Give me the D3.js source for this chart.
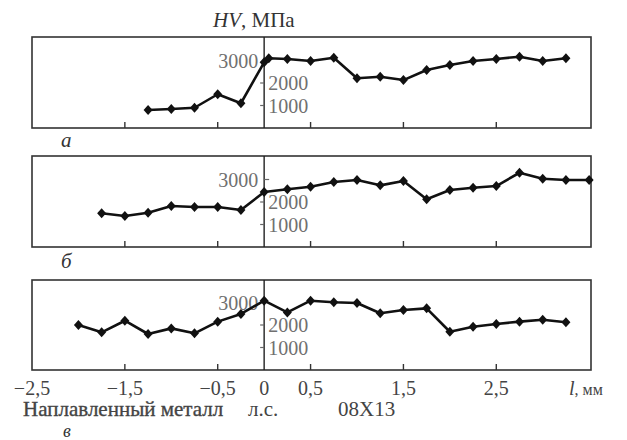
<!DOCTYPE html>
<html>
<head>
<meta charset="utf-8">
<script src="https://cdn.jsdelivr.net/npm/d3@7"></script>
<style>
  body { margin: 0; background: #fff; }
</style>
</head>
<body>
<svg id="canvas" width="627" height="440"></svg>
<script>
// HV values (MPa), l in mm
const lA = [-1.25, -1, -0.75, -0.5, -0.25, 0, 0.05, 0.25, 0.5, 0.75, 1, 1.25, 1.5, 1.75, 2, 2.25, 2.5, 2.75, 3, 3.25];
const hvA = [800, 845, 900, 1500, 1100, 2920, 3100, 3070, 2980, 3125, 2210, 2280, 2130, 2580, 2800, 2980, 3070, 3170, 2980, 3100];

const lB = [-1.75, -1.5, -1.25, -1, -0.75, -0.5, -0.25, 0, 0.25, 0.5, 0.75, 1, 1.25, 1.5, 1.75, 2, 2.25, 2.5, 2.75, 3, 3.25, 3.5];
const hvB = [1500, 1380, 1525, 1820, 1780, 1780, 1645, 2445, 2565, 2680, 2890, 2980, 2740, 2935, 2120, 2535, 2635, 2710, 3300, 3035, 2980, 2980];

const lC = [-2, -1.75, -1.5, -1.25, -1, -0.75, -0.5, -0.25, 0, 0.25, 0.5, 0.75, 1, 1.25, 1.5, 1.75, 2, 2.25, 2.5, 2.75, 3, 3.25];
const hvC = [2000, 1675, 2190, 1600, 1850, 1630, 2150, 2490, 3080, 2560, 3080, 3010, 2980, 2520, 2665, 2740, 1700, 1925, 2045, 2150, 2235, 2120];

const panelNames = ["а", "б", "в"];
const xTicks = [-1.5, -0.5, 0.5, 1.5, 2.5];
const xTickLabels = ["−2,5", "−1,5", "−0,5", "0", "0,5", "1,5", "2,5"];
const xLabelValues = [-2.5, -1.5, -0.5, 0, 0.5, 1.5, 2.5];
const yTicks = [1000, 2000, 3000];

const serif = "'Liberation Serif', 'Times New Roman', Tinos, 'DejaVu Serif', serif";

const svg = d3.select("#canvas")
    .attr("font-family", serif)
    .style("font-family", serif);

var x = d3.scaleLinear().domain([-2.5, 3.52]).range([32, 591]);

// panel boxes: top / bottom in px
var panels = [
    { top: 37, bottom: 128, l: lA, hv: hvA },
    { top: 156, bottom: 247, l: lB, hv: hvB },
    { top: 280, bottom: 370, l: lC, hv: hvC }
];

var diamond = "M0,-5L4.5,0L0,5L-4.5,0Z";

panels.forEach((p, i) => {
    var y = d3.scaleLinear().domain([0, 1000]).range([p.bottom, p.bottom - 22.5]);
    var g = svg.append("g");

    g.append("rect")
        .attr("x", x.range()[0])
        .attr("y", p.top)
        .attr("width", x.range()[1] - x.range()[0])
        .attr("height", p.bottom - p.top)
        .attr("fill", "none")
        .attr("stroke", "#333")
        .attr("stroke-width", 1.6);

    // inward ticks on the bottom edge
    g.selectAll(".xtick")
        .data(xTicks)
        .enter()
        .append("line")
        .attr("x1", d => x(d))
        .attr("x2", d => x(d))
        .attr("y1", p.bottom)
        .attr("y2", p.bottom - 6)
        .attr("stroke", "#333")
        .attr("stroke-width", 1.4);

    // vertical axis at l = 0
    g.append("line")
        .attr("x1", x(0))
        .attr("x2", x(0))
        .attr("y1", p.top)
        .attr("y2", p.bottom)
        .attr("stroke", "#222")
        .attr("stroke-width", 1.4);

    g.selectAll(".ytick")
        .data(yTicks)
        .enter()
        .append("line")
        .attr("x1", d => d === 3000 ? x(0) : x(0) - 4)
        .attr("x2", d => d === 3000 ? x(0) + 5 : x(0))
        .attr("y1", d => y(d))
        .attr("y2", d => y(d))
        .attr("stroke", "#666")
        .attr("stroke-width", 1.2);

    g.selectAll(".ylabel")
        .data(yTicks)
        .enter()
        .append("text")
        .attr("x", d => d === 3000 ? x(0) - 6 : x(0) + 4)
        .attr("y", d => y(d))
        .attr("dy", "0.35em")
        .attr("text-anchor", d => d === 3000 ? "end" : "start")
        .attr("font-size", 20)
        .attr("fill", "#707070")
        .text(d => d);

    var line = d3.line()
        .x((d, j) => x(p.l[j]))
        .y(d => y(d));

    g.append("path")
        .datum(p.hv)
        .attr("d", line)
        .attr("fill", "none")
        .attr("stroke", "#111")
        .attr("stroke-width", 2.6)
        .attr("stroke-linejoin", "round");

    g.selectAll(".pt")
        .data(p.hv)
        .enter()
        .append("path")
        .attr("d", diamond)
        .attr("transform", (d, j) => `translate(${x(p.l[j])}, ${y(d)})`)
        .attr("fill", "#111");
});

// panel letters
svg.selectAll(".pname")
    .data(panelNames)
    .enter()
    .append("text")
    .attr("x", (d, i) => i === 2 ? 63 : 61)
    .attr("y", (d, i) => [147, 268, 437][i])
    .attr("font-size", (d, i) => i === 2 ? 18 : 21)
    .attr("font-style", "italic")
    .attr("fill", "#333")
    .text(d => d);

// x tick labels under the last panel
svg.selectAll(".xlabel")
    .data(xLabelValues)
    .enter()
    .append("text")
    .attr("x", d => x(d))
    .attr("y", 395)
    .attr("text-anchor", "middle")
    .attr("font-size", 20)
    .attr("fill", "#444")
    .text((d, i) => xTickLabels[i]);

var lLabel = svg.append("text")
    .attr("x", 569)
    .attr("y", 395)
    .attr("font-size", 20)
    .attr("fill", "#444");
lLabel.append("tspan").attr("font-style", "italic").text("l");
lLabel.append("tspan").attr("font-size", 16).text(", мм");

var title = svg.append("text")
    .attr("x", 213)
    .attr("y", 27)
    .attr("font-size", 21)
    .attr("fill", "#333");
title.append("tspan").attr("font-style", "italic").text("HV");
title.append("tspan").text(", МПа");

svg.append("text")
    .attr("x", 23)
    .attr("y", 416)
    .attr("font-size", 21)
    .attr("fill", "#444")
    .attr("stroke", "#444")
    .attr("stroke-width", 0.35)
    .text("Наплавленный металл");

svg.append("text")
    .attr("x", 248)
    .attr("y", 416)
    .attr("font-size", 21)
    .attr("fill", "#444")
    .text("л.с.");

svg.append("text")
    .attr("x", 338)
    .attr("y", 416)
    .attr("font-size", 21)
    .attr("fill", "#444")
    .text("08Х13");
</script>
</body>
</html>
